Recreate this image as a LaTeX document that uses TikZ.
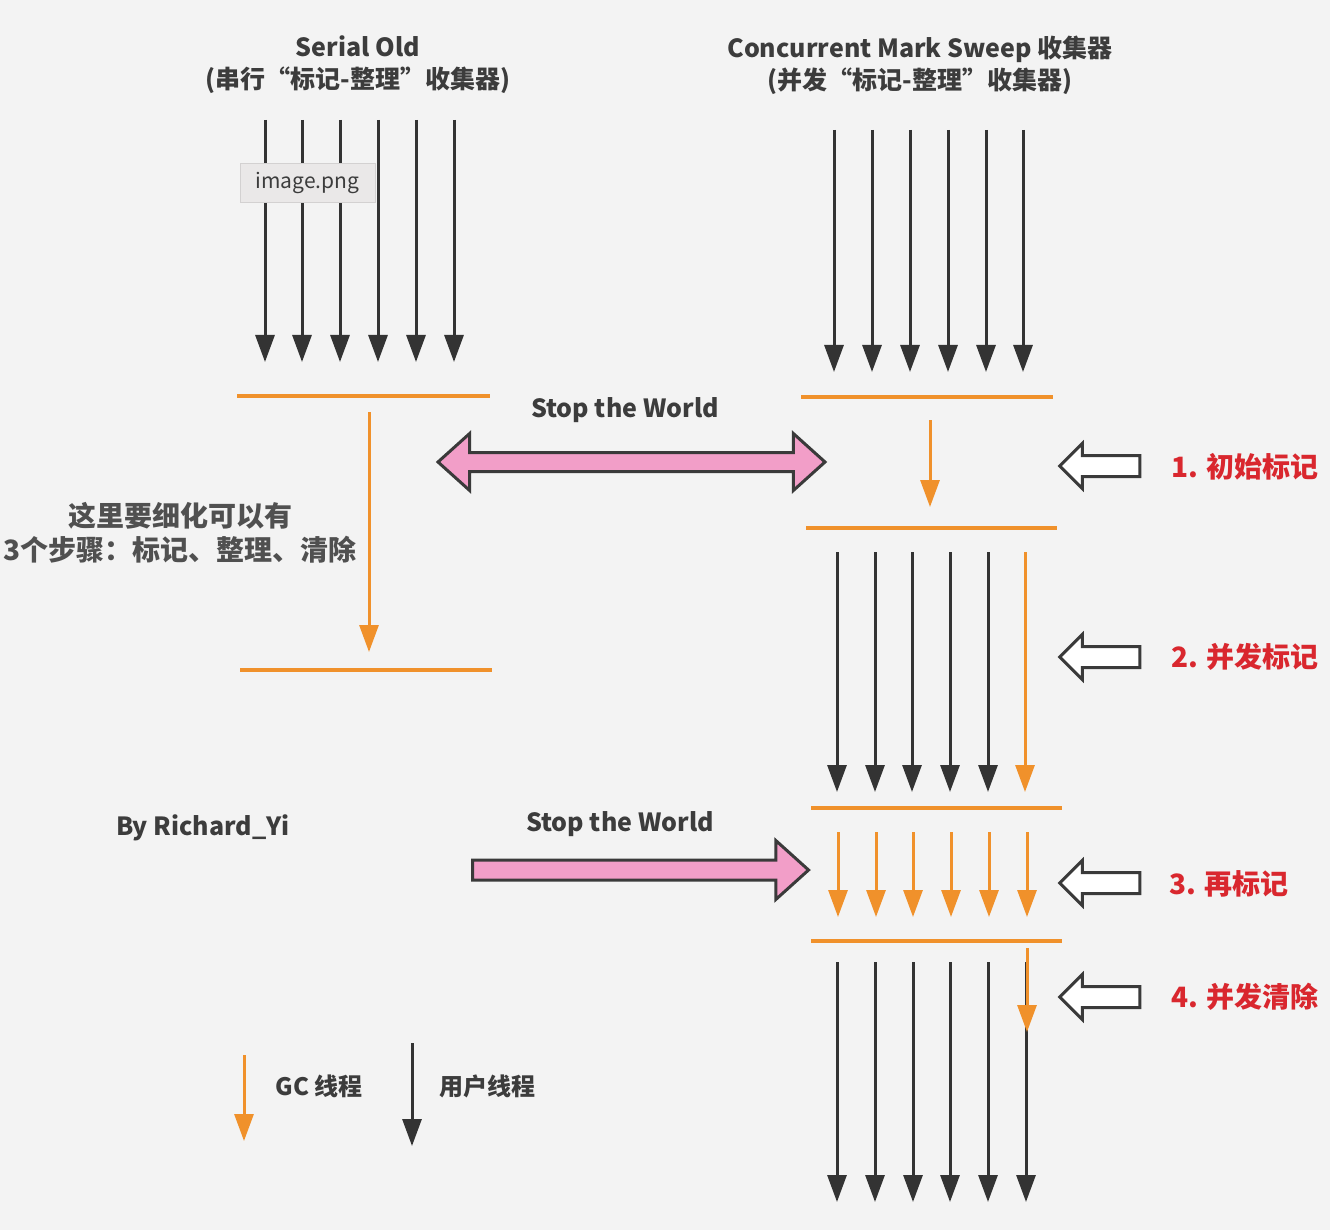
\documentclass[tikz,border=0pt]{standalone}
\usepackage{fontspec}
\setmainfont{Noto Sans CJK SC}
\usetikzlibrary{arrows.meta,shapes.arrows}
\definecolor{bgrey}{HTML}{F3F3F3}
\definecolor{gcorange}{HTML}{F0912B}
\definecolor{usergrey}{HTML}{333333}
\definecolor{stwpink}{HTML}{F29EC8}
\definecolor{edgegrey}{HTML}{3A3A3A}
\definecolor{phasered}{HTML}{D9272E}
\definecolor{txtgrey}{HTML}{3C3C3C}
\definecolor{notegrey}{HTML}{505050}
\definecolor{tipgrey}{HTML}{EAE8E8}

\tikzset{
	user/.style={draw=usergrey,line width=3pt,-{Triangle[width=19pt,length=27pt]}},
	gc/.style={draw=gcorange,line width=3pt,-{Triangle[width=19pt,length=27pt]}},
	phase/.style={draw=gcorange,line width=3.5pt},
	title/.style={text=txtgrey,font=\fontsize{25}{32}\selectfont\bfseries,align=center},
	stwlabel/.style={text=txtgrey,font=\fontsize{25}{30}\selectfont\bfseries},
	steplabel/.style={text=phasered,font=\fontsize{28}{32}\selectfont\bfseries,anchor=west},
	stwdouble/.style={double arrow,draw=edgegrey,fill=stwpink,line width=3pt,inner xsep=0pt,inner ysep=8pt,
		double arrow head extend=19pt,double arrow tip angle=84},
	stwsingle/.style={single arrow,draw=edgegrey,fill=stwpink,line width=3pt,inner xsep=0pt,inner ysep=8.5pt,
		single arrow head extend=19.5pt,single arrow tip angle=84},
	hollow/.style={single arrow,draw=edgegrey,fill=white,line width=3pt,inner xsep=0pt,inner ysep=9pt,
		single arrow head extend=12pt,single arrow tip angle=90,shape border rotate=180,minimum height=80pt},
}

\begin{document}
\begin{tikzpicture}[line cap=butt,line join=miter,x=1pt,y=-1pt]
	\fill[bgrey] (0,0) rectangle (1330,1230);
	\useasboundingbox (0,0) rectangle (1330,1230);
	% titles
	\node[title] (sotitle) at (358,65) {Serial Old\\(串行“标记-整理”收集器)};
	\node[title] (cmstitle) at (920,65) {Concurrent Mark Sweep 收集器\\(并发“标记-整理”收集器)};
	% serial old
	\foreach \x [count=\i] in {265,302,340,378,416,454}{
		\coordinate (so\i a) at (\x,120);
		\coordinate (so\i b) at (\x,362);
		\draw[user] (so\i a) -- (so\i b);
	}
	\draw[phase] (237,396) -- (490,396);
	\coordinate (sogca) at (369,412);
	\coordinate (sogcb) at (369,652);
	\draw[gc] (sogca) -- (sogcb);
	\draw[phase] (240,670) -- (492,670);
	\node[text=notegrey,font=\fontsize{28}{34}\selectfont\bfseries,align=center] (note) at (180,533)
		{这里要细化可以有\\3个步骤：标记、整理、清除};
	% tooltip
	\node[fill=tipgrey,draw=tipgrey!90!black,line width=0.6pt,minimum width=135pt,minimum height=39pt,
		text=txtgrey,font=\fontsize{21}{24}\selectfont] (tip) at (307.5,182.5) {image.png};
	% cms
	\foreach \x [count=\i] in {834,872,910,948,986,1023}{
		\coordinate (ua\i a) at (\x,130);
		\coordinate (ua\i b) at (\x,372);
		\draw[user] (ua\i a) -- (ua\i b);
	}
	\draw[phase] (801,397) -- (1053,397);
	\coordinate (ima) at (930,420);
	\coordinate (imb) at (930,507);
	\draw[gc] (ima) -- (imb);
	\draw[phase] (806,528) -- (1057,528);
	\foreach \x [count=\i] in {837,875,912,950,988}{
		\coordinate (ub\i a) at (\x,552);
		\coordinate (ub\i b) at (\x,792);
		\draw[user] (ub\i a) -- (ub\i b);
	}
	\coordinate (cma) at (1025,552);
	\coordinate (cmb) at (1025,792);
	\draw[gc] (cma) -- (cmb);
	\draw[phase] (811,808) -- (1062,808);
	\foreach \x [count=\i] in {838,876,913,951,989,1027}{
		\coordinate (rm\i a) at (\x,832);
		\coordinate (rm\i b) at (\x,917);
		\draw[gc] (rm\i a) -- (rm\i b);
	}
	\draw[phase] (811,941) -- (1062,941);
	\foreach \x [count=\i] in {837,875,913,950,988,1026}{
		\coordinate (uc\i a) at (\x,962);
		\coordinate (uc\i b) at (\x,1202);
		\draw[user] (uc\i a) -- (uc\i b);
	}
	\coordinate (csa) at (1027,948);
	\coordinate (csb) at (1027,1032);
	\draw[gc] (csa) -- (csb);
	% stop the world
	\node[stwlabel] (stwa) at (625,410) {Stop the World};
	\node[stwdouble,minimum height=387pt] (stwarrowa) at (631.5,462) {};
	\node[stwlabel] (stwb) at (620,824) {Stop the World};
	\node[stwsingle,minimum height=336pt] (stwarrowb) at (635,870) {};
	% phases
	\node[hollow] (pha) at (1105,466) {};
	\node[steplabel] (la) at (1168,467) {1. 初始标记};
	\node[hollow] (phb) at (1105,657) {};
	\node[steplabel] (lb) at (1168,657) {2. 并发标记};
	\node[hollow] (phc) at (1105,883) {};
	\node[steplabel] (lc) at (1166,884) {3. 再标记};
	\node[hollow] (phd) at (1105,997) {};
	\node[steplabel] (ld) at (1168,997) {4. 并发清除};
	% author and legend
	\node[stwlabel] (author) at (203,828) {By Richard\_Yi};
	\coordinate (lga) at (244,1055);
	\coordinate (lgb) at (244,1141);
	\draw[gc] (lga) -- (lgb);
	\node[stwlabel,font=\fontsize{24}{28}\selectfont\bfseries,anchor=west] (gclabel) at (272,1086) {GC 线程};
	\coordinate (lua) at (412,1043);
	\coordinate (lub) at (412,1146);
	\draw[user] (lua) -- (lub);
	\node[stwlabel,font=\fontsize{24}{28}\selectfont\bfseries,anchor=west] (userlabel) at (436,1086) {用户线程};
\end{tikzpicture}
\end{document}
